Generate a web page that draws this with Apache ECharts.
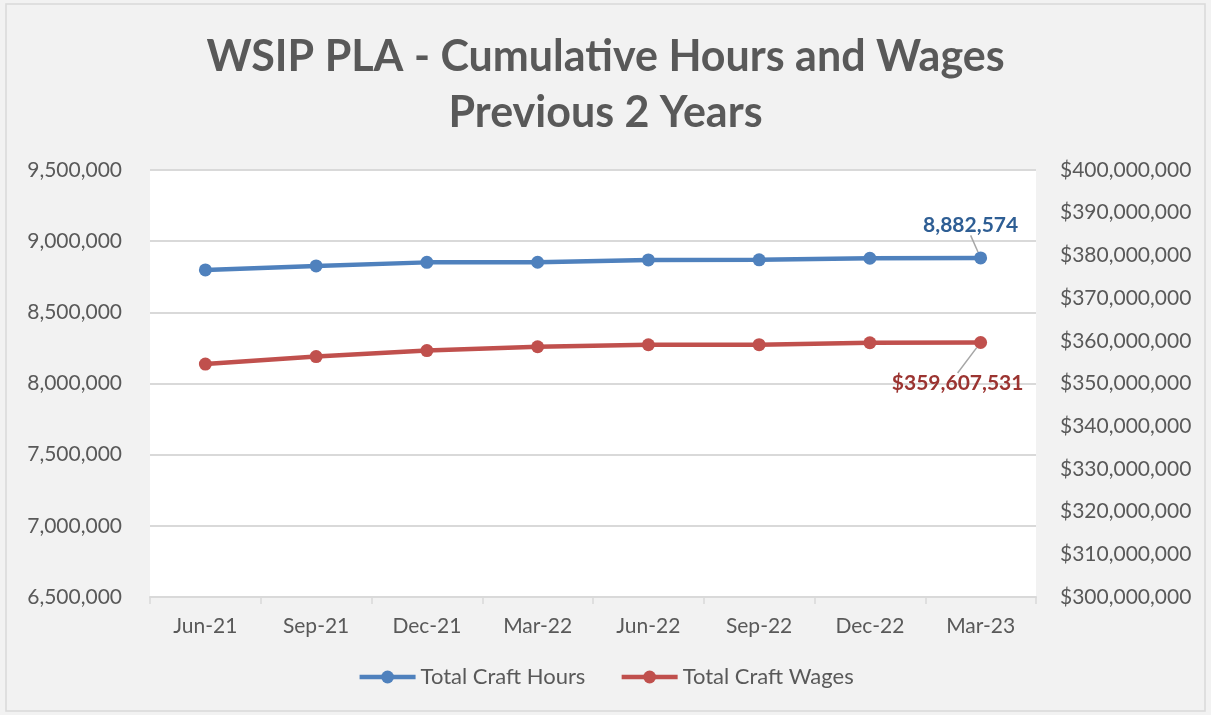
<!DOCTYPE html>
<html>
<head>
<meta charset="utf-8">
<script src="https://cdn.jsdelivr.net/npm/echarts@6/dist/echarts.min.js"></script>
<style>
  html, body { margin: 0; padding: 0; background: #ffffff; }
  #chart { width: 1211px; height: 715px; }
</style>
</head>
<body>
<div id="chart"></div>
<script>
// Quarter-end periods
const categories = ['Jun-21', 'Sep-21', 'Dec-21', 'Mar-22', 'Jun-22', 'Sep-22', 'Dec-22', 'Mar-23'];
// Cumulative craft hours (left axis)
const craftHours = [8798000, 8826000, 8851000, 8852000, 8868000, 8869000, 8880000, 8882574];
// Cumulative craft wages in dollars (right axis)
const craftWages = [354550000, 356300000, 357700000, 358600000, 359070000, 359100000, 359550000, 359607531];

const hoursTicks = { min: 6500000, max: 9500000, interval: 500000 };
const wagesTicks = { min: 300000000, max: 400000000, interval: 10000000 };

const fmt = v => Math.round(v).toLocaleString('en-US');
const textColor = '#595959';
const baseFont = 'Lato, "Open Sans", sans-serif';

const chart = echarts.init(document.getElementById('chart'));
chart.setOption({
  backgroundColor: '#f2f2f2',
  animation: false,
  textStyle: { fontFamily: baseFont, color: textColor },
  graphic: [{
    type: 'rect',
    shape: { x: 6, y: 4, width: 1199, height: 707 },
    style: { fill: 'none', stroke: '#d9d9d9', lineWidth: 1.5 },
    silent: true
  }],
  title: {
    text: 'WSIP PLA - Cumulative Hours and Wages\nPrevious 2 Years',
    left: 'center',
    top: 24,
    textStyle: {
      fontFamily: baseFont,
      fontSize: 43,
      fontWeight: 'bold',
      color: textColor,
      lineHeight: 56
    }
  },
  grid: {
    left: 150, right: 175, top: 170, bottom: 118,
    show: true, backgroundColor: '#ffffff', borderWidth: 0
  },
  legend: {
    bottom: 22,
    left: 'center',
    itemWidth: 56,
    itemHeight: 16,
    itemGap: 34,
    textStyle: { fontSize: 22, color: textColor, fontFamily: baseFont },
    lineStyle: { width: 4.5 },
    data: ['Total Craft Hours', 'Total Craft Wages']
  },
  xAxis: {
    type: 'category',
    data: categories,
    boundaryGap: true,
    axisLine: { lineStyle: { color: '#d9d9d9', width: 2 } },
    axisTick: { show: true, length: 7, lineStyle: { color: '#d9d9d9', width: 1.5 } },
    axisLabel: { fontSize: 21, color: textColor, margin: 19 }
  },
  yAxis: [{
    type: 'value',
    min: hoursTicks.min, max: hoursTicks.max, interval: hoursTicks.interval,
    position: 'left',
    axisLine: { show: false },
    axisTick: { show: false },
    splitLine: { lineStyle: { color: '#d9d9d9', width: 2 } },
    axisLabel: { fontSize: 21, color: textColor, margin: 28, formatter: fmt }
  }, {
    type: 'value',
    min: wagesTicks.min, max: wagesTicks.max, interval: wagesTicks.interval,
    position: 'right',
    axisLine: { show: false },
    axisTick: { show: false },
    splitLine: { show: false },
    axisLabel: { fontSize: 21, color: textColor, margin: 24, formatter: v => '$' + fmt(v) }
  }],
  series: [{
    name: 'Total Craft Hours',
    type: 'line',
    yAxisIndex: 0,
    data: craftHours.map((v, i) => i === craftHours.length - 1
      ? { value: v, label: { show: true } } : v),
    symbol: 'circle',
    symbolSize: 13,
    itemStyle: { color: '#4f81bd' },
    lineStyle: { color: '#4f81bd', width: 4.5 },
    label: {
      show: false,
      position: 'top',
      fontSize: 21,
      fontWeight: 'bold',
      color: '#2e5e94',
      formatter: p => fmt(p.value)
    },
    labelLayout: { dx: -10, dy: -11 },
    labelLine: { show: true, lineStyle: { color: '#a6a6a6', width: 1.5 } }
  }, {
    name: 'Total Craft Wages',
    type: 'line',
    yAxisIndex: 1,
    data: craftWages.map((v, i) => i === craftWages.length - 1
      ? { value: v, label: { show: true } } : v),
    symbol: 'circle',
    symbolSize: 13,
    itemStyle: { color: '#c0504d' },
    lineStyle: { color: '#c0504d', width: 4.5 },
    label: {
      show: false,
      position: 'bottom',
      fontSize: 21,
      fontWeight: 'bold',
      color: '#9b3431',
      formatter: p => '$' + fmt(p.value)
    },
    labelLayout: { dx: -23, dy: 19 },
    labelLine: { show: true, lineStyle: { color: '#a6a6a6', width: 1.5 } }
  }]
});
</script>
</body>
</html>
